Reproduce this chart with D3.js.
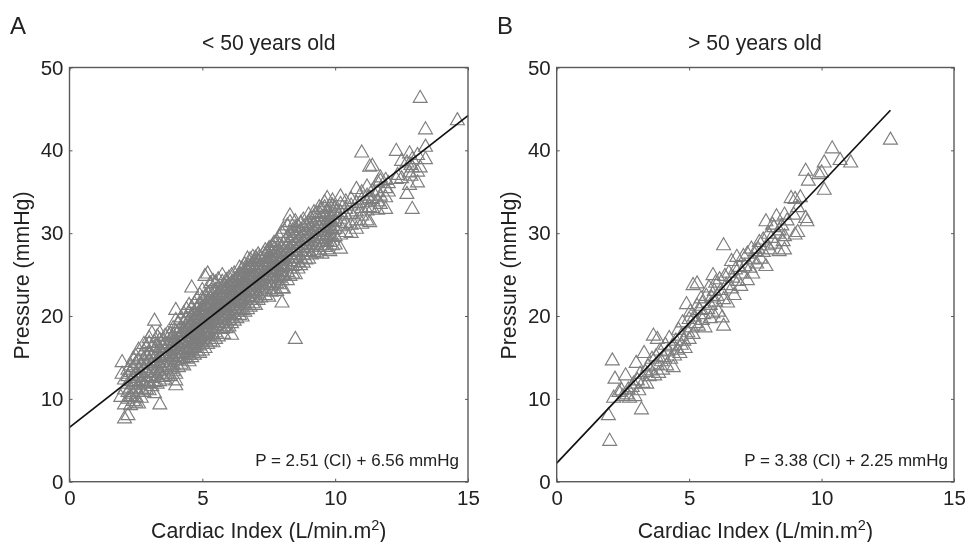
<!DOCTYPE html>
<html><head><meta charset="utf-8">
<script src="https://cdn.jsdelivr.net/npm/d3@7/dist/d3.min.js"></script>
<style>html,body{margin:0;background:#fff}svg{display:block;filter:blur(0.45px)}text{font-family:"Liberation Sans",Arial,sans-serif;fill:#222}</style>
</head><body><div id="c"></div>
<script>
const xTicks=[0,5,10,15], yTicks=[0,10,20,30,40,50];
const panelLetters=["A","B"];
const titles=["< 50 years old","> 50 years old"];
const equations=["P = 2.51 (CI) + 6.56 mmHg","P = 3.38 (CI) + 2.25 mmHg"];
const fitA=[[0,6.56],[15,44.2]];
const fitB=[[0,2.25],[12.6,44.84]];
// Each entry: cardiac index, then the pressures read at that index.
const under50Columns=[
[1.98,[14.5,13.1]],[1.93,[10.3]],[2.07,[7.7,9.4,11.2,12.4]],[2.2,[8.1,10.1,10.9,11.9,12.8,13.6]],[2.3,[9.3,10.4,11.4,12.2,13.3,14.1]],[2.4,[9.8,10.7,11.8,12.6,13.9,14.9]],
[2.5,[9.6,10.3,11.2,12.1,13.1,14.4,15.2]],[2.6,[9.5,10.9,11.7,12.9,13.6,14.7,16]],[2.7,[10.2,11.3,12.3,13.2,14.2,15.3]],[2.8,[10.9,11.9,12.7,13.8,14.9,15.8,16.7]],[2.9,[11.2,12.2,13.3,14.4,15.4,16.4]],
[3.0,[11.1,12,12.8,13.6,14.6,15.5,16.8,17.4]],[3.1,[11.6,12.6,13.5,14.3,15.2,16.3,18]],[3.2,[10.75,12.1,13.2,14.1,15,15.9,16.9,19.5]],[3.3,[11.9,12.9,13.8,14.7,15.6,16.5,17.6]],[3.4,[9.4,12.2,13.4,14.4,15.3,16.2,17.2,18]],
[3.5,[12.7,13.6,14.5,15.4,16.3,17.1]],[3.6,[12.4,13.1,14.1,15.1,15.9,16.8,17.7]],[3.7,[13,13.9,14.8,15.6,16.6,18]],[3.8,[12.8,13.7,14.5,15.3,16.2,17.1,17.9]],[3.9,[13.4,14.2,15.1,16,16.9,17.8,18.6]],
[4.0,[11.7,12.3,13.1,14.7,15.5,16.4,17.2,18.2,19.6,20.8]],[4.1,[13.9,14.8,15.6,16.5,17.4,18.3,19.2]],[4.2,[14.3,15.2,16.1,16.9,17.7,18.7,19.9]],[4.3,[14.1,15,15.9,16.7,17.6,18.5,19.3,20.4]],[4.4,[14.9,15.7,16.4,17.2,18.1,18.9,19.7,20.9]],
[4.5,[14.6,15.4,16.2,17.1,17.9,18.8,19.6,20.5,21.4]],[4.6,[15.1,16,16.8,17.6,18.4,19.3,20.2,21.1,23.5]],[4.7,[15.4,16.3,17.2,18,18.9,19.7,20.6,21.6]],[4.8,[15.8,16.6,17.5,18.3,19.1,20,20.9,22.1]],[4.9,[15.6,16.5,17.3,18.1,19,19.8,20.7,21.5,22.6]],
[5.0,[15.9,16.9,17.8,18.6,19.4,20.3,21.2,22.2,23.2]],[5.1,[16.2,17.2,18,18.8,19.7,20.5,21.4,22.4,24.9]],[5.2,[16.7,17.6,18.4,19.2,20.1,20.9,21.8,22.8,25.2]],[5.3,[17,17.9,18.7,19.5,20.4,21.2,22.1,23,24]],[5.4,[16.9,17.8,18.6,19.4,20.2,21.1,22,23,24.3]],
[5.5,[17.3,18.1,19,19.8,20.6,21.5,22.3,23.2,24.1]],[5.6,[17.6,18.5,19.3,20.1,20.9,21.8,22.6,23.5,24.5]],[5.75,[18.5,19.2,20,20.8,21.6,22.4,23.3,24.2,25]],[5.8,[17.9,18.8,19.6,20.4,21.2,22,22.9,23.8]],[5.9,[18.6,19.4,20.2,21,21.9,22.7,23.5,24.4]],
[6.0,[18.8,19.6,20.4,21.3,22.1,22.9,23.8,24.7]],[6.1,[17.8,19.2,20,20.8,21.6,22.4,23.2,24.1,25]],[6.2,[19.5,20.3,21.1,21.9,22.8,23.6,24.4,25.2]],[6.3,[19.8,20.6,21.4,22.2,23,23.9,24.7]],[6.4,[20.2,21,21.8,22.6,23.4,24.2,25.1,25.9]],
[6.5,[20,20.8,21.6,22.4,23.2,24,24.9,25.8]],[6.6,[20.6,21.4,22.2,23,23.8,24.6,25.4,26.3]],[6.7,[20.9,21.7,22.5,23.3,24.1,24.9,25.7,27]],[6.8,[21.2,22,22.8,23.6,24.4,25.2,26,26.9]],[6.9,[21.6,22.4,23.1,23.9,24.7,25.5,26.3,27.2]],
[7.0,[21.4,22.2,23,23.8,24.6,25.4,26.2,27.1]],[7.1,[22,22.8,23.6,24.4,25.1,25.9,26.7,27.5]],[7.2,[22.3,23.1,23.9,24.6,25.4,26.2,27]],[7.37,[22.6,23.4,24.2,25,25.8,26.6,27.3,28]],[7.5,[22.4,23.3,24.1,24.9,25.7,26.5,27.4,28.2]],
[7.6,[23,23.8,24.6,25.4,26.2,27,27.8]],[7.7,[23.3,24.1,24.9,25.7,26.5,27.3,28.1,28.9]],[7.8,[23.1,24,24.8,25.6,26.4,27.2,28,29.1]],[7.9,[23.9,24.7,25.5,26.3,27,27.8,28.6,29.6]],[8.0,[21.7,23.4,24.4,25.2,26,26.8,27.6,28.4,30.1]],
[8.05,[23.4,25,26.1,27.3,28.8,30.6]],[8.2,[24.4,25.4,26.3,27.1,27.9,28.7,29.6,31]],[8.3,[24.9,25.8,26.7,27.5,28.3,29.2,30.1,32.2,31.4]],[8.4,[25.2,26.1,27,27.8,28.6,29.5,30.4]],[8.5,[17.3,25.1,26.2,27.1,28,28.9,29.8,30.7,31.5]],
[8.6,[25.8,26.6,27.5,28.4,29.2,30.1,30.9]],[8.7,[26.2,27.1,27.9,28.7,29.6,30.4,31.3]],[8.8,[26.5,27.4,28.3,29.1,29.9,30.8,31.7]],[8.9,[26.9,27.8,28.6,29.4,30.3,31.1]],[9.0,[27,27.9,28.8,29.6,30.5,31.3,32.3]],
[9.1,[27.5,28.4,29.2,30.1,30.9,31.8]],[9.2,[27.8,28.6,29.5,30.3,31.1,32,32.6]],[9.3,[27.7,28.7,29.7,30.6,31.5,32.4]],[9.4,[28,29,29.9,30.8,31.6,32.5,33.2]],[9.5,[27.6,28.6,29.4,30.4,31.3,32.1,33]],
[9.6,[28.4,29.3,30.2,31.1,32,33.2,33.8]],[9.7,[28.1,29.1,30,30.9,31.8,32.7,34.3]],[9.8,[27.9,29,29.8,30.7,31.6,32.4,33.3]],[9.9,[28.6,29.6,30.5,31.4,32.3,33.4,34]],[10.0,[28.7,29.7,30.6,31.5,32.4,33.1]],
[10.2,[28.2,29.9,30.9,31.8,32.6,33.6,34.5]],[10.4,[30.2,31.3,32.2,33,33.9]],[10.6,[30.1,31.1,32.4,33.4,34.2]],[10.8,[30.6,31.6,32.7,33.7,35.4]],[11.0,[31.2,32.2,33.1,34.1,35,39.8]],
[11.2,[31.6,32.8,33.8,34.6,35.7]],[11.3,[31.4,33.2,34.3,38.1]],[11.4,[33.1,34.2,35.2,38.2]],[11.6,[32.9,33.9,35,36.2]],[11.7,[33.6,34.6,36.8,36.4]],
[11.9,[33,34.4,35.5,36.5]],[12.0,[35.1,36.1]],[12.3,[40,36.6]],[12.35,[37.1]],[12.5,[38.8,36.7]],[12.7,[34.8,38.6]],[12.8,[39.7,37.4,35.9]],[12.85,[37,38.3]],[12.9,[33,38,39]],[13.1,[39.5,36.2,37.5]],[13.2,[46.4,38]],[13.4,[42.6,40.5,39]],[14.6,[43.7]]
];
// Second pass through the dark core of the cloud, where the markers overlap most.
const under50Core=[
[3.85,[15.2,16.4,17.5]],[4.05,[15.6,16.8,18]],[4.25,[15.5,17,18.2]],[4.45,[16,17.4,18.7]],[4.55,[16.3,17.6,19.1]],[4.65,[16.7,18.1,19.5]],[4.75,[17,18.5,19.9]],[4.85,[17.4,18.7,20.3]],[4.95,[17.6,19.2,20.6]],
[5.05,[18,19.3,20.8]],[5.15,[18.2,19.8,21.2]],[5.25,[18.6,20.2,21.5]],[5.35,[19,20.3,21.8]],[5.45,[19.2,20.8,22.2]],[5.55,[19.6,21,22.5]],[5.65,[19.9,21.4,22.7]],[5.85,[20.4,21.7,23.2]],[5.95,[20.7,22.2,23.5]],
[6.05,[21,22.5,23.8]],[6.15,[21.3,22.7,24.2]],[6.25,[21.6,23.1,24.4]],[6.35,[22,23.4,24.8]],[6.45,[22.2,23.6,25.1]],[6.55,[22.5,24.1,25.4]],[6.65,[22.9,24.3,25.7]],[6.75,[23.1,24.7,26.1]],[6.85,[23.5,24.9,26.3]],
[6.95,[23.8,25.2,26.6]],[7.05,[24.1,25.5,26.9]],[7.15,[24.3,25.8,27.2]],[7.3,[24.8,26.2,27.6]],[7.45,[25.2,26.6,27.9]],[7.55,[25.6,27,28.3]],[7.65,[25.9,27.2,28.6]],[7.75,[26.1,27.6,28.9]]
];
const over50Points=[
[1.95,8.1],[2.0,5],[2.1,14.7],[2.15,10.2],[2.2,12.5],[2.35,10.9],[2.45,11.1],[2.5,10.4],[2.6,12.9],[2.65,10.6],[2.7,11.2],[2.75,10.2],[2.85,11.5],[2.9,11.9],[2.95,10.4],[3.0,14.4],[3.05,12.3],[3.1,11.1],[3.15,13.1],[3.2,8.8],
[3.25,12],[3.3,15.6],[3.35,13.3],[3.4,11.9],[3.45,14],[3.5,12.8],[3.55,13.5],[3.6,14.9],[3.65,17.7],[3.7,12.9],[3.75,15.2],[3.8,17.3],[3.8,14.2],[3.85,13.2],[3.9,15.9],[3.95,14.6],[4.0,13.6],[4.05,15.1],[4.1,16.6],[4.15,14.1],
[4.2,15.8],[4.25,17.4],[4.3,14.9],[4.35,16.4],[4.4,13.9],[4.45,15.3],[4.5,17.1],[4.55,16],[4.6,18.4],[4.65,15.6],[4.7,17.7],[4.7,16.6],[4.75,19.3],[4.8,17.1],[4.85,16.2],[4.9,21.5],[4.95,18.1],[5.0,17.3],[5.0,19.7],[5.05,20.6],
[5.1,18.7],[5.15,23.8],[5.15,17.9],[5.2,20],[5.25,19.2],[5.3,24],[5.3,21.3],[5.35,18.9],[5.4,20.8],[5.45,22.2],[5.5,19.6],[5.5,21.6],[5.55,20.3],[5.6,18.7],[5.65,22.5],[5.7,20.9],[5.75,23.5],[5.8,21.4],[5.8,19.8],[5.85,22.3],
[5.9,25],[5.9,20.4],[5.95,23.1],[6.0,21.8],[6.0,24.1],[6.05,22.5],[6.1,20.6],[6.15,24.5],[6.2,23.2],[6.25,19.9],[6.3,28.6],[6.3,22.1],[6.3,18.9],[6.35,24.9],[6.4,23.8],[6.45,21.7],[6.5,25.3],[6.6,26.7],[6.6,23.4],[6.65,24.7],
[6.7,22.6],[6.75,25.7],[6.8,27.2],[6.85,24.3],[6.9,26],[6.95,23.7],[7.0,25.2],[7.05,27.3],[7.1,26.1],[7.2,24.4],[7.2,27.6],[7.3,25.9],[7.35,28.2],[7.4,25.2],[7.4,26.9],[7.5,27.9],[7.55,26.4],[7.6,28.2],[7.65,29],[7.7,27],
[7.8,29.3],[7.8,27.8],[7.9,31.5],[7.9,26.1],[7.95,28.6],[8.0,30],[8.05,28.1],[8.1,29.5],[8.15,31.1],[8.2,30.8],[8.25,28.8],[8.3,32.1],[8.35,30],[8.4,30.4],[8.4,27.9],[8.5,31],[8.55,29.1],[8.6,32.3],[8.6,29.7],[8.6,28.1],
[8.7,31.6],[8.85,34.3],[8.95,32.3],[9.0,34.2],[9.0,29.9],[9.1,33.2],[9.1,30.2],[9.2,34.4],[9.4,37.6],[9.4,31.9],[9.45,31.5],[9.5,36.4],[9.9,37.2],[10.0,37.4],[10.1,38.6],[10.1,35.3],[10.4,40.3],[10.7,38.9],[11.1,38.6],[12.6,41.35]
];
const under50Points=under50Columns.concat(under50Core).flatMap(([x,ys])=>ys.map(y=>[x,y]));

const panels=[
 {left:69.5,right:468,pts:under50Points,fit:fitA,letterX:10,eqX:459},
 {left:556.7,right:954,pts:over50Points,fit:fitB,letterX:497,eqX:948}
];
const plotTop=67.5,plotBottom=481.7,axisCol="#5a5a5a";
const svg=d3.select("#c").append("svg").attr("width",967).attr("height",542);
const tri=d3.symbol().type(d3.symbolTriangle).size(84)();
panels.forEach((p,i)=>{
 const x=d3.scaleLinear().domain([0,15]).range([p.left,p.right]);
 const y=d3.scaleLinear().domain([0,50]).range([plotBottom,plotTop]);
 const g=svg.append("g");
 g.append("g").selectAll("path").data(p.pts).join("path").attr("d",tri)
  .attr("transform",d=>`translate(${x(d[0])},${y(d[1])+1})`)
  .attr("fill","none").attr("stroke","#7e7e7e").attr("stroke-width",1.15);
 g.append("path").attr("d",d3.line().x(d=>x(d[0])).y(d=>y(d[1]))(p.fit))
  .attr("fill","none").attr("stroke","#111").attr("stroke-width",1.7);
 g.append("rect").attr("x",p.left).attr("y",plotTop).attr("width",p.right-p.left).attr("height",plotBottom-plotTop)
  .attr("fill","none").attr("stroke",axisCol).attr("stroke-width",1.4);
 const ax=g.append("g").attr("transform",`translate(0,${plotBottom})`).call(d3.axisBottom(x).tickValues(xTicks).tickSize(-3).tickPadding(9).tickFormat(d3.format("d")));
 const ay=g.append("g").attr("transform",`translate(${p.left},0)`).call(d3.axisLeft(y).tickValues(yTicks).tickSize(-3).tickPadding(6).tickFormat(d3.format("d")));
 g.append("g").attr("transform",`translate(0,${plotTop})`).call(d3.axisTop(x).tickValues(xTicks).tickSize(-3).tickFormat("")).select(".domain").remove();
 g.append("g").attr("transform",`translate(${p.right},0)`).call(d3.axisRight(y).tickValues(yTicks).tickSize(-3).tickFormat("")).select(".domain").remove();
 g.selectAll(".domain").attr("stroke","none");
 g.selectAll(".tick line").attr("stroke",axisCol);
 ax.selectAll("text").attr("font-size",20.5).attr("fill","#222").attr("font-family",null);
 ay.selectAll("text").attr("font-size",20.5).attr("fill","#222").attr("font-family",null);
 g.append("text").attr("x",p.letterX).attr("y",33.5).attr("font-size",24).text(panelLetters[i]);
 g.append("text").attr("x",(p.left+p.right)/2+(i?-0.5:0)).attr("y",50).attr("text-anchor","middle").attr("font-size",21.2).text(titles[i]);
 g.append("text").attr("x",p.eqX).attr("y",466).attr("text-anchor","end").attr("font-size",17).text(equations[i]);
 const xl=g.append("text").attr("x",(p.left+p.right)/2).attr("y",538).attr("text-anchor","middle").attr("font-size",21.3);
 xl.append("tspan").text("Cardiac Index (L/min.m");
 xl.append("tspan").attr("dy",-8).attr("font-size",14.5).text("2");
 xl.append("tspan").attr("dy",8).text(")");
 g.append("text").attr("transform",`translate(${p.left-41},275.5) rotate(-90)`).attr("text-anchor","middle").attr("font-size",21.3).text("Pressure (mmHg)");
});
</script></body></html>
